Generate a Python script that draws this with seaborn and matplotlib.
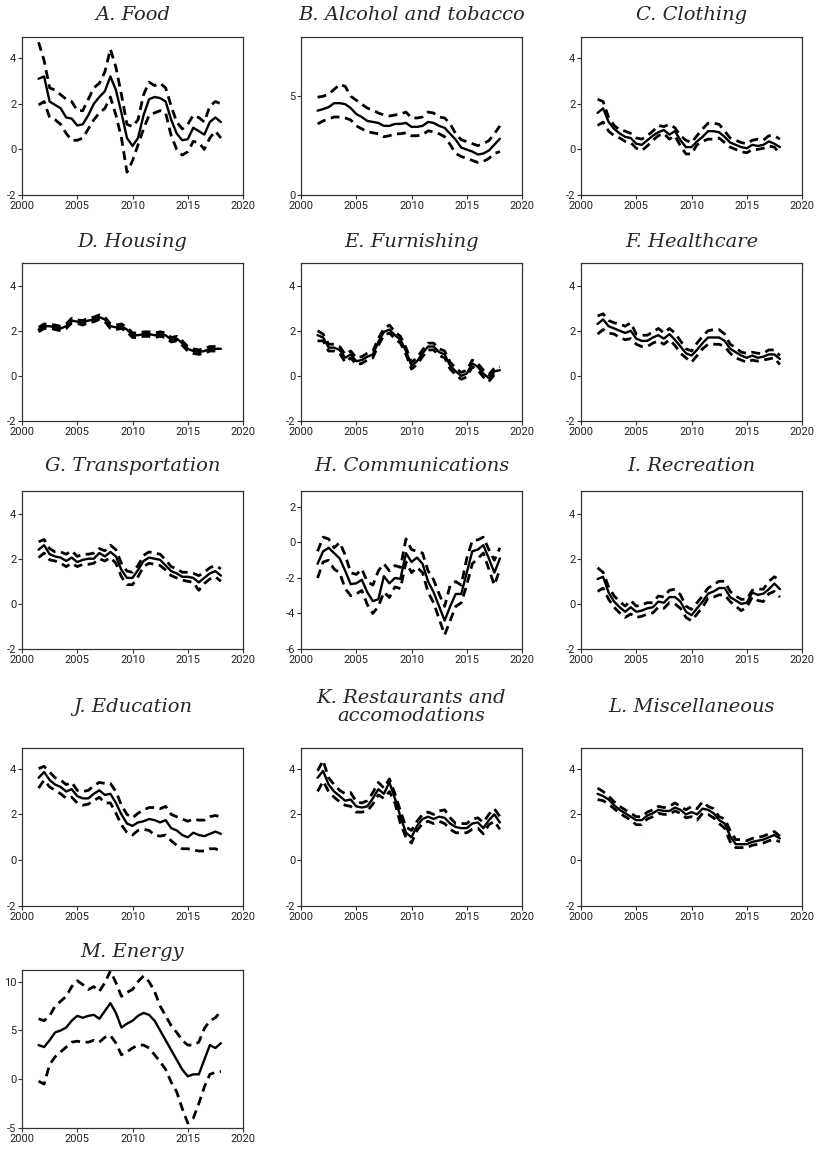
import numpy as np
import pandas as pd
import matplotlib
matplotlib.use("Agg")
import matplotlib.pyplot as plt
import seaborn as sns

# Semiannual observation dates
years = np.arange(2001.5, 2018.01, 0.5)

# ---- A. Food
food_mid = [3.1, 3.2, 2.1, 1.95, 1.8, 1.4, 1.35, 1.05, 1.1, 1.5, 2.0, 2.3, 2.55, 3.2, 2.6, 1.6, 0.5, 0.15,
            0.5, 1.5, 2.2, 2.3, 2.25, 2.1, 1.3, 0.7, 0.4, 0.45, 0.95, 0.8, 0.65, 1.2, 1.4, 1.2]
food_hi = [4.7, 3.9, 2.7, 2.6, 2.4, 2.2, 2.1, 1.7, 1.7, 2.2, 2.7, 2.9, 3.4, 4.4, 3.6, 2.4, 1.1, 1.0,
           1.3, 2.4, 2.95, 2.8, 2.9, 2.7, 1.9, 1.2, 0.9, 1.1, 1.5, 1.4, 1.2, 1.9, 2.1, 2.0]
food_lo = [1.95, 2.1, 1.4, 1.3, 1.1, 0.7, 0.4, 0.4, 0.5, 0.9, 1.3, 1.6, 1.8, 2.3, 1.5, 0.5, -1.0, -0.5,
           0.2, 0.9, 1.5, 1.6, 1.7, 1.6, 0.6, 0.0, -0.25, -0.1, 0.35, 0.3, 0.0, 0.5, 0.8, 0.5]

# ---- B. Alcohol and tobacco
alco_mid = [4.27, 4.35, 4.45, 4.65, 4.65, 4.6, 4.4, 4.1, 3.95, 3.75, 3.7, 3.65, 3.5, 3.5, 3.6, 3.6, 3.65, 3.45,
            3.45, 3.5, 3.7, 3.65, 3.5, 3.4, 3.1, 2.8, 2.4, 2.3, 2.2, 2.05, 2.1, 2.25, 2.55, 2.85]
alco_hi = [4.95, 5.0, 5.1, 5.35, 5.6, 5.5, 5.0, 4.8, 4.6, 4.4, 4.3, 4.15, 4.05, 4.0, 4.05, 4.1, 4.2, 3.9,
           3.9, 3.95, 4.2, 4.15, 3.95, 3.9, 3.6, 3.1, 2.8, 2.7, 2.6, 2.5, 2.6, 2.75, 3.1, 3.5]
alco_lo = [3.6, 3.75, 3.85, 3.95, 3.95, 3.9, 3.8, 3.5, 3.35, 3.2, 3.15, 3.1, 2.95, 3.0, 3.1, 3.1, 3.15, 3.0,
           3.0, 3.05, 3.25, 3.2, 3.1, 2.95, 2.55, 2.1, 1.95, 1.85, 1.75, 1.65, 1.7, 1.85, 2.1, 2.2]

# ---- C. Clothing
cloth_mid = [1.6, 1.8, 1.2, 0.9, 0.7, 0.55, 0.5, 0.25, 0.2, 0.4, 0.6, 0.75, 0.85, 0.65, 0.8, 0.4, 0.1, 0.1,
             0.35, 0.55, 0.8, 0.8, 0.75, 0.55, 0.3, 0.2, 0.1, 0.05, 0.2, 0.15, 0.2, 0.35, 0.25, 0.1]
cloth_hi = [2.2, 2.1, 1.4, 1.05, 0.85, 0.8, 0.7, 0.5, 0.45, 0.6, 0.8, 1.05, 1.0, 1.1, 0.95, 0.6, 0.4, 0.3,
            0.6, 0.9, 1.15, 1.15, 1.1, 0.8, 0.5, 0.4, 0.3, 0.25, 0.4, 0.45, 0.4, 0.6, 0.6, 0.45]
cloth_lo = [1.05, 1.2, 0.8, 0.6, 0.5, 0.35, 0.3, 0.05, -0.05, 0.15, 0.4, 0.6, 0.7, 0.45, 0.6, 0.15, -0.2, -0.2,
            0.2, 0.35, 0.45, 0.45, 0.5, 0.3, 0.1, 0.0, -0.1, -0.15, 0.0, 0.0, 0.05, 0.15, 0.1, -0.2]

# ---- D. Housing
hous_mid = [2.05, 2.2, 2.2, 2.15, 2.1, 2.2, 2.45, 2.4, 2.35, 2.45, 2.5, 2.6, 2.5, 2.2, 2.15, 2.2, 2.05, 1.8,
            1.8, 1.85, 1.85, 1.8, 1.85, 1.8, 1.6, 1.65, 1.45, 1.2, 1.1, 1.05, 1.1, 1.2, 1.2, 1.2]
hous_hi = [2.15, 2.3, 2.28, 2.25, 2.2, 2.3, 2.55, 2.48, 2.45, 2.55, 2.6, 2.7, 2.6, 2.3, 2.25, 2.3, 2.15, 1.9,
           1.9, 1.95, 1.95, 1.9, 1.95, 1.9, 1.7, 1.75, 1.55, 1.3, 1.2, 1.15, 1.2, 1.3, 1.3, 1.3]
hous_lo = [1.95, 2.1, 2.12, 2.05, 2.0, 2.1, 2.35, 2.32, 2.25, 2.35, 2.4, 2.5, 2.4, 2.1, 2.05, 2.1, 1.95, 1.7,
           1.7, 1.75, 1.75, 1.7, 1.75, 1.7, 1.5, 1.55, 1.35, 1.1, 1.0, 0.95, 1.0, 1.1, 1.1, 1.1]

# ---- E. Furnishing
furn_mid = [1.8, 1.7, 1.25, 1.25, 1.15, 0.8, 0.95, 0.65, 0.7, 0.85, 0.95, 1.5, 1.95, 2.05, 1.8, 1.6, 1.1, 0.45,
            0.65, 1.0, 1.3, 1.3, 1.05, 0.95, 0.45, 0.2, 0.0, 0.1, 0.55, 0.4, 0.1, -0.1, 0.2, 0.25]
furn_hi = [2.0, 1.85, 1.4, 1.4, 1.3, 0.95, 1.1, 0.8, 0.85, 1.0, 1.1, 1.65, 2.1, 2.25, 1.95, 1.75, 1.25, 0.6,
           0.8, 1.15, 1.45, 1.45, 1.2, 1.1, 0.6, 0.35, 0.15, 0.25, 0.7, 0.55, 0.25, 0.05, 0.35, 0.4]
furn_lo = [1.55, 1.55, 1.1, 1.1, 1.0, 0.6, 0.8, 0.5, 0.55, 0.7, 0.8, 1.35, 1.8, 1.9, 1.65, 1.45, 0.95, 0.3,
           0.5, 0.85, 1.15, 1.15, 0.9, 0.8, 0.3, 0.05, -0.15, -0.05, 0.4, 0.25, -0.05, -0.25, 0.05, 0.05]

# ---- F. Healthcare
hlth_mid = [2.3, 2.5, 2.2, 2.1, 2.0, 1.9, 2.0, 1.65, 1.55, 1.55, 1.7, 1.8, 1.65, 1.85, 1.6, 1.3, 1.0, 0.9,
            1.15, 1.45, 1.7, 1.7, 1.7, 1.55, 1.2, 1.05, 0.9, 0.8, 0.9, 0.8, 0.85, 0.95, 0.95, 0.75]
hlth_hi = [2.65, 2.75, 2.45, 2.35, 2.3, 2.2, 2.35, 1.85, 1.8, 1.8, 1.95, 2.1, 1.9, 2.1, 1.9, 1.55, 1.2, 1.1,
           1.45, 1.75, 2.0, 2.05, 2.05, 1.85, 1.4, 1.25, 1.05, 1.0, 1.05, 1.0, 1.0, 1.15, 1.15, 0.9]
hlth_lo = [1.85, 2.05, 1.9, 1.85, 1.7, 1.6, 1.65, 1.4, 1.3, 1.3, 1.45, 1.55, 1.4, 1.6, 1.35, 1.0, 0.8, 0.6,
           0.9, 1.2, 1.4, 1.4, 1.4, 1.3, 1.0, 0.8, 0.7, 0.6, 0.7, 0.65, 0.7, 0.75, 0.8, 0.5]

# ---- G. Transportation
trns_mid = [2.4, 2.6, 2.2, 2.1, 2.05, 1.9, 2.05, 1.85, 1.95, 2.0, 2.0, 2.25, 2.1, 2.3, 2.1, 1.5, 1.15, 1.15,
            1.5, 1.9, 2.05, 2.0, 1.95, 1.7, 1.45, 1.35, 1.2, 1.2, 1.15, 0.95, 1.15, 1.35, 1.45, 1.25]
trns_hi = [2.75, 2.85, 2.45, 2.3, 2.3, 2.2, 2.35, 2.1, 2.2, 2.2, 2.25, 2.45, 2.35, 2.6, 2.4, 1.8, 1.45, 1.4,
           1.7, 2.15, 2.3, 2.25, 2.2, 1.95, 1.65, 1.55, 1.4, 1.4, 1.35, 1.25, 1.4, 1.6, 1.7, 1.55]
trns_lo = [2.05, 2.25, 1.95, 1.9, 1.8, 1.65, 1.8, 1.65, 1.75, 1.75, 1.8, 2.0, 1.9, 2.05, 1.8, 1.2, 0.85, 0.85,
           1.2, 1.65, 1.8, 1.75, 1.7, 1.5, 1.25, 1.15, 1.05, 1.0, 0.95, 0.6, 0.9, 1.1, 1.2, 1.0]

# ---- H. Communications
comm_mid = [-1.2, -0.5, -0.3, -0.6, -0.9, -1.6, -2.35, -2.3, -2.1, -2.8, -3.3, -3.2, -1.9, -2.3, -2.0, -2.05,
            -0.6, -1.1, -0.85, -1.2, -2.2, -2.8, -3.6, -4.4, -3.6, -2.9, -2.9, -1.7, -0.5, -0.4, -0.15, -0.9,
            -1.7, -0.9]
comm_hi = [-0.5, 0.3, 0.2, -0.3, 0.0, -0.7, -1.7, -1.8, -1.5, -2.2, -2.4, -1.6, -1.2, -1.6, -1.3, -1.4,
           0.2, -0.4, -0.5, -0.6, -1.6, -2.1, -2.9, -3.6, -2.4, -2.2, -2.4, -0.9, 0.1, 0.15, 0.3, -0.4,
           -1.0, -0.3]
comm_lo = [-2.0, -1.1, -1.0, -1.5, -1.7, -2.6, -3.0, -2.9, -2.7, -3.5, -4.0, -3.6, -2.8, -3.1, -2.5, -2.6,
           -1.1, -1.7, -1.4, -1.7, -2.8, -3.4, -4.3, -5.2, -4.4, -3.6, -3.4, -2.4, -1.2, -0.9, -0.6, -1.5,
           -2.4, -1.5]

# ---- I. Recreation
recr_mid = [1.1, 1.2, 0.5, 0.1, -0.15, -0.35, -0.15, -0.35, -0.3, -0.2, -0.15, 0.1, 0.05, 0.3, 0.3, 0.1,
            -0.35, -0.5, -0.2, 0.1, 0.45, 0.55, 0.7, 0.7, 0.3, 0.15, 0.0, 0.05, 0.5, 0.4, 0.45, 0.65, 0.9, 0.65]
recr_hi = [1.6, 1.4, 0.75, 0.35, 0.1, -0.1, 0.15, -0.1, -0.05, 0.05, 0.05, 0.35, 0.3, 0.6, 0.65, 0.4,
           -0.1, -0.25, 0.05, 0.35, 0.7, 0.85, 1.0, 1.0, 0.55, 0.35, 0.2, 0.2, 0.6, 0.65, 0.65, 1.0, 1.2, 1.05]
recr_lo = [0.55, 0.7, 0.2, -0.15, -0.4, -0.6, -0.45, -0.6, -0.55, -0.45, -0.4, -0.15, -0.2, 0.05, 0.0, -0.2,
           -0.6, -0.75, -0.45, -0.15, 0.25, 0.3, 0.4, 0.4, 0.1, -0.1, -0.3, -0.15, 0.3, 0.15, 0.1, 0.45, 0.55, 0.3]

# ---- J. Education
educ_mid = [3.6, 3.85, 3.5, 3.3, 3.2, 3.0, 3.1, 2.8, 2.7, 2.7, 2.9, 3.05, 2.85, 2.9, 2.5, 2.0, 1.6, 1.5,
            1.65, 1.7, 1.8, 1.75, 1.65, 1.75, 1.4, 1.3, 1.1, 1.0, 1.2, 1.1, 1.05, 1.15, 1.25, 1.15]
educ_hi = [4.0, 4.1, 3.85, 3.6, 3.5, 3.3, 3.4, 3.05, 3.0, 3.05, 3.25, 3.4, 3.35, 3.35, 3.0, 2.4, 2.0, 1.85,
           2.05, 2.2, 2.3, 2.3, 2.25, 2.35, 2.0, 1.9, 1.8, 1.7, 1.8, 1.75, 1.75, 1.9, 1.95, 1.9]
educ_lo = [3.15, 3.5, 3.2, 3.05, 2.9, 2.7, 2.75, 2.5, 2.4, 2.45, 2.6, 2.75, 2.5, 2.5, 2.05, 1.55, 1.2, 1.1,
           1.3, 1.35, 1.3, 1.1, 1.05, 1.1, 0.85, 0.65, 0.5, 0.5, 0.45, 0.4, 0.4, 0.5, 0.5, 0.4]

# ---- K. Restaurants and accomodations
rest_mid = [3.6, 3.9, 3.3, 3.0, 2.8, 2.6, 2.65, 2.35, 2.3, 2.35, 2.7, 3.1, 2.9, 3.4, 2.7, 1.9, 1.2, 1.0,
            1.5, 1.8, 1.9, 1.8, 1.9, 1.85, 1.6, 1.45, 1.4, 1.4, 1.6, 1.65, 1.4, 1.75, 2.0, 1.65]
rest_hi = [3.9, 4.35, 3.6, 3.3, 3.05, 2.9, 2.95, 2.55, 2.5, 2.6, 2.95, 3.4, 3.15, 3.55, 2.9, 2.15, 1.45, 1.3,
           1.7, 2.0, 2.1, 2.0, 2.15, 2.2, 1.85, 1.6, 1.6, 1.6, 1.8, 1.85, 1.65, 2.0, 2.25, 1.9]
rest_lo = [3.0, 3.45, 3.0, 2.75, 2.55, 2.4, 2.35, 2.1, 2.1, 2.15, 2.45, 2.85, 2.7, 3.0, 2.5, 1.6, 1.0, 0.75,
           1.3, 1.6, 1.7, 1.6, 1.7, 1.6, 1.35, 1.2, 1.2, 1.2, 1.35, 1.4, 1.15, 1.55, 1.7, 1.35]

# ---- L. Miscellaneous
misc_mid = [2.9, 2.8, 2.65, 2.4, 2.2, 2.05, 1.9, 1.75, 1.75, 1.95, 2.05, 2.2, 2.15, 2.15, 2.3, 2.2, 2.0, 2.1,
            2.0, 2.25, 2.2, 2.05, 1.75, 1.6, 1.05, 0.7, 0.7, 0.7, 0.8, 0.85, 0.9, 1.0, 1.1, 0.95]
misc_hi = [3.15, 3.0, 2.8, 2.55, 2.35, 2.2, 2.05, 1.9, 1.9, 2.1, 2.2, 2.35, 2.3, 2.35, 2.5, 2.35, 2.2, 2.35,
           2.25, 2.55, 2.35, 2.25, 1.9, 1.8, 1.3, 0.9, 0.9, 0.85, 0.95, 1.0, 1.05, 1.15, 1.25, 1.05]
misc_lo = [2.65, 2.6, 2.45, 2.25, 2.05, 1.9, 1.75, 1.55, 1.55, 1.8, 1.9, 2.05, 2.0, 2.0, 2.15, 2.05, 1.85, 1.9,
           1.75, 2.05, 2.0, 1.85, 1.6, 1.4, 0.8, 0.55, 0.55, 0.55, 0.65, 0.7, 0.75, 0.85, 0.9, 0.8]

# ---- M. Energy
enrg_mid = [3.5, 3.3, 4.0, 4.8, 5.0, 5.3, 6.0, 6.5, 6.3, 6.5, 6.6, 6.2, 7.0, 7.8, 6.8, 5.3, 5.7, 6.0,
            6.5, 6.8, 6.6, 6.0, 5.0, 4.0, 3.0, 2.0, 1.0, 0.3, 0.5, 0.5, 2.0, 3.5, 3.2, 3.7]
enrg_hi = [6.2, 6.0, 6.5, 7.5, 8.0, 8.5, 9.5, 10.1, 9.7, 9.2, 9.5, 9.0, 9.9, 11.1, 9.9, 8.5, 8.9, 9.2,
           10.0, 10.6, 10.0, 9.0, 7.5, 6.5, 5.5, 4.8, 4.0, 3.5, 3.5, 3.8, 5.2, 6.0, 6.3, 7.0]
enrg_lo = [-0.2, -0.5, 1.5, 2.3, 2.8, 3.3, 3.8, 3.9, 3.8, 3.8, 4.0, 3.8, 4.3, 4.5, 3.7, 2.5, 2.8, 3.2,
           3.5, 3.5, 3.2, 2.5, 1.8, 1.0, -0.3, -1.3, -3.0, -4.5, -4.0, -2.5, -0.8, 0.5, 0.7, 0.8]

titles = ["A. Food", "B. Alcohol and tobacco", "C. Clothing", "D. Housing", "E. Furnishing",
          "F. Healthcare", "G. Transportation", "H. Communications", "I. Recreation",
          "J. Education", "K. Restaurants and\naccomodations", "L. Miscellaneous", "M. Energy"]
series = [(food_mid, food_lo, food_hi), (alco_mid, alco_lo, alco_hi), (cloth_mid, cloth_lo, cloth_hi),
          (hous_mid, hous_lo, hous_hi), (furn_mid, furn_lo, furn_hi), (hlth_mid, hlth_lo, hlth_hi),
          (trns_mid, trns_lo, trns_hi), (comm_mid, comm_lo, comm_hi), (recr_mid, recr_lo, recr_hi),
          (educ_mid, educ_lo, educ_hi), (rest_mid, rest_lo, rest_hi), (misc_mid, misc_lo, misc_hi),
          (enrg_mid, enrg_lo, enrg_hi)]
ylims = [(-2, 4.93), (0, 8), (-2, 4.93), (-2, 5), (-2, 5), (-2, 5), (-2, 5), (-6, 2.9), (-2, 5),
         (-2, 4.9), (-2, 4.9), (-2, 4.9), (-5, 11.2)]
yticks = [[-2, 0, 2, 4], [0, 5], [-2, 0, 2, 4], [-2, 0, 2, 4], [-2, 0, 2, 4], [-2, 0, 2, 4],
          [-2, 0, 2, 4], [-6, -4, -2, 0, 2], [-2, 0, 2, 4], [-2, 0, 2, 4], [-2, 0, 2, 4],
          [-2, 0, 2, 4], [-5, 0, 5, 10]]

sns.set_style("ticks")
plt.rcParams["axes.unicode_minus"] = False
plt.rcParams["font.family"] = ["Roboto", "DejaVu Sans"]

W, H = 819, 1163
fig = plt.figure(figsize=(W / 100, H / 100), dpi=100)

col_left = [22, 301, 581]
col_w = 221
row_top = [37, 263, 491, 748, 970]
row_h = 158
title_y = [15, 242, 466, 707, 952]

for i, (title, (mid, lo, hi)) in enumerate(zip(titles, series)):
    r, c = divmod(i, 3)
    l, t = col_left[c], row_top[r]
    ax = fig.add_axes([l / W, 1 - (t + row_h) / H, col_w / W, row_h / H])
    df = pd.DataFrame({"year": years, "mid": mid, "lo": lo, "hi": hi})
    for col, ls, lw in (("lo", (0, (3.2, 2.0)), 2.0), ("hi", (0, (3.2, 2.0)), 2.0), ("mid", "-", 1.7)):
        sns.lineplot(data=df, x="year", y=col, ax=ax, color="black", linestyle=ls, linewidth=lw)
    ax.set_xlim(2000, 2020)
    ax.set_ylim(*ylims[i])
    ax.set_xticks([2000, 2005, 2010, 2015, 2020])
    ax.set_yticks(yticks[i])
    ax.set_xlabel("")
    ax.set_ylabel("")
    ax.tick_params(axis="both", labelsize=8, length=3, width=0.8, color="#333333",
                   labelcolor="#222222", pad=1)
    for sp in ax.spines.values():
        sp.set_color("#333333")
        sp.set_linewidth(0.9)
    fig.text((l + col_w / 2) / W, 1 - title_y[r] / H, title, ha="center", va="center",
             fontsize=14, family="DejaVu Serif", style="italic", linespacing=1.0)

fig.savefig("out.png", dpi=100)
